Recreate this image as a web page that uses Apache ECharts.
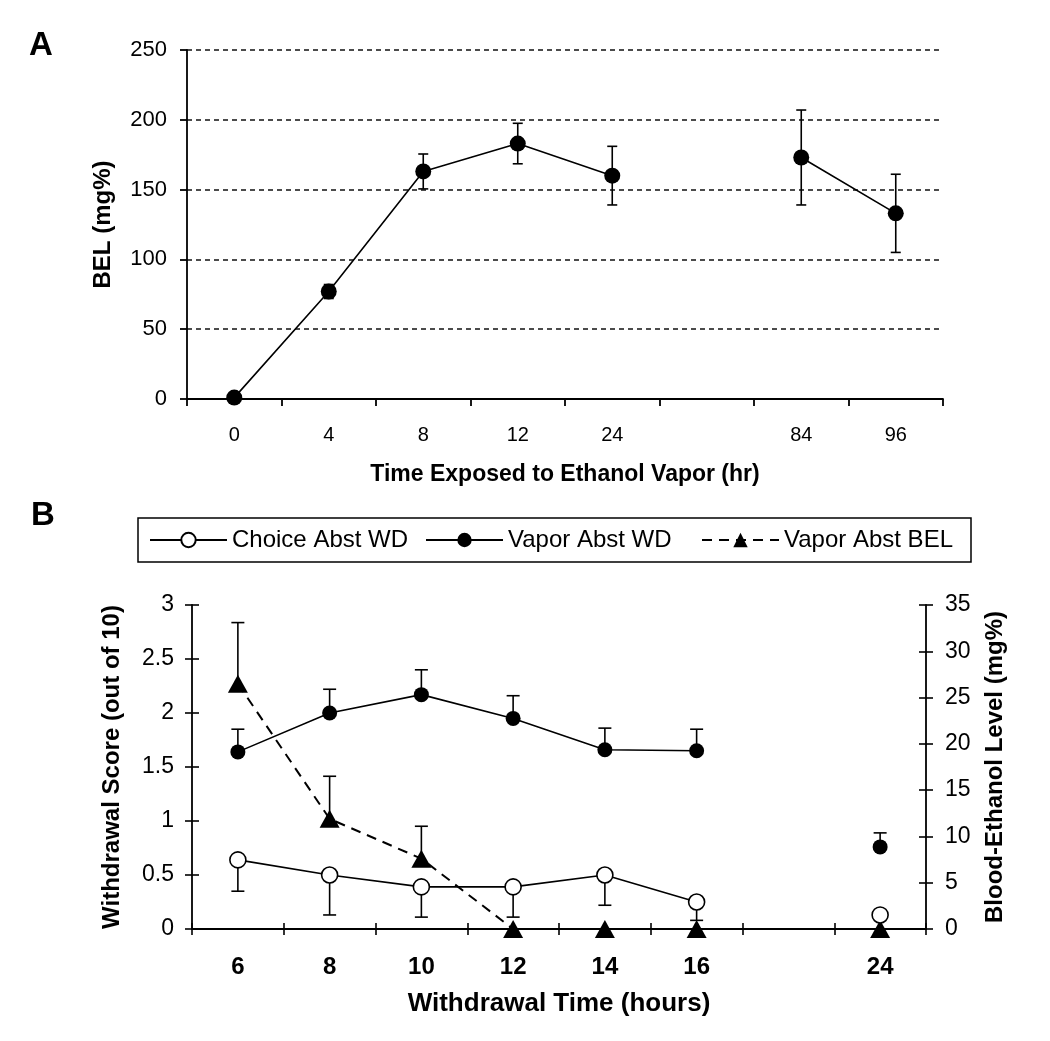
<!DOCTYPE html>
<html><head><meta charset="utf-8">
<script src="https://cdn.jsdelivr.net/npm/echarts@6/dist/echarts.min.js"></script>
<style>html,body{margin:0;padding:0;background:#fff}#c{width:1050px;height:1041px}</style>
</head><body><div id="c"></div>
<script>
// ---- Panel A data ----
const catsA = ['0', '4', '8', '12', '24', '', '84', '96'];
const belA = [1, 77, 163, 183, 160, null, 173, 133];
const belAErr = [0, 5, 12.5, 14.5, 21, null, 34, 28];
const ticksA = [0, 50, 100, 150, 200, 250];

// ---- Panel B data ----
const catsB = ['6', '8', '10', '12', '14', '16', '', '24'];
const choiceWD = [0.64, 0.5, 0.39, 0.39, 0.5, 0.25, null, 0.13];
const choiceWDErr = [0.29, 0.37, 0.28, 0.28, 0.28, 0.17, null, 0];
const vaporWD = [1.64, 2.0, 2.17, 1.95, 1.66, 1.65, null, 0.76];
const vaporWDErr = [0.21, 0.22, 0.23, 0.21, 0.2, 0.2, null, 0.13];
const vaporBEL = [26.5, 11.9, 7.6, 0, 0, 0, null, 0];
const vaporBELErr = [6.6, 4.6, 3.5, 0, 0, 0, null, 0];
const seriesNames = ['Choice Abst WD', 'Vapor Abst WD', 'Vapor Abst BEL'];

const FONT = 'Liberation Sans, Arial, sans-serif';

function errData(vals, errs, dir) {
  const out = [];
  vals.forEach((v, i) => {
    const e = errs[i];
    if (v == null || !e) return;
    if (dir === 0) out.push([i, v - e, v + e]);
    else out.push([i, v, v + dir * e]);
  });
  return out;
}
function errRender(capW, both) {
  return function (params, api) {
    const i = api.value(0);
    const a = api.coord([i, api.value(1)]);
    const b = api.coord([i, api.value(2)]);
    const st = { stroke: '#000', lineWidth: 1.6 };
    const ch = [
      { type: 'line', shape: { x1: a[0], y1: a[1], x2: b[0], y2: b[1] }, style: st },
      { type: 'line', shape: { x1: b[0] - capW / 2, y1: b[1], x2: b[0] + capW / 2, y2: b[1] }, style: st }
    ];
    if (both) ch.push({ type: 'line', shape: { x1: a[0] - capW / 2, y1: a[1], x2: a[0] + capW / 2, y2: a[1] }, style: st });
    return { type: 'group', children: ch };
  };
}

const axLine = { show: true, lineStyle: { color: '#000', width: 1.8 } };
const black = '#000';

const option = {
  backgroundColor: '#fff',
  animation: false,
  textStyle: { fontFamily: FONT, color: black },
  graphic: [
    { type: 'text', left: 29, top: 29, style: { text: 'A', font: 'bold 33px ' + FONT, fill: black } },
    { type: 'text', left: 31, top: 499, style: { text: 'B', font: 'bold 33px ' + FONT, fill: black } }
  ],
  legend: {
    data: seriesNames,
    left: 138, top: 518,
    orient: 'horizontal',
    padding: [9, 6, 9, 11],
    itemGap: 12,
    itemWidth: 77,
    itemHeight: 18,
    borderColor: '#000', borderWidth: 1.5, borderRadius: 0,
    textStyle: { fontSize: 24, fontFamily: FONT, color: black, width: 181, lineHeight: 26 }
  },
  grid: [
    { left: 187, right: 107, top: 50, bottom: 642 },
    { left: 192, right: 124, top: 605, bottom: 112 }
  ],
  xAxis: [
    {
      type: 'category', gridIndex: 0, data: catsA,
      axisLine: axLine,
      axisTick: { show: true, length: 7, lineStyle: { color: black, width: 1.8 } },
      axisLabel: { fontSize: 20, color: black, margin: 26, fontFamily: FONT },
      name: 'Time Exposed to Ethanol Vapor (hr)', nameLocation: 'middle', nameGap: 64,
      nameTextStyle: { fontSize: 23, fontWeight: 'bold', color: black, fontFamily: FONT }
    },
    {
      type: 'category', gridIndex: 1, data: catsB, position: 'bottom',
      axisLine: axLine,
      axisTick: { show: true, length: 6, lineStyle: { color: black, width: 1.6 } },
      axisLabel: { fontSize: 24, fontWeight: 'bold', color: black, margin: 26, fontFamily: FONT },
      name: 'Withdrawal Time (hours)', nameLocation: 'middle', nameGap: 62,
      nameTextStyle: { fontSize: 26, fontWeight: 'bold', color: black, fontFamily: FONT }
    },
    {
      type: 'category', gridIndex: 1, data: catsB, position: 'bottom',
      axisLine: { show: false },
      axisTick: { show: true, inside: true, length: 6, lineStyle: { color: black, width: 1.6 } },
      axisLabel: { show: false }
    }
  ],
  yAxis: [
    {
      type: 'value', gridIndex: 0, min: ticksA[0], max: ticksA[ticksA.length - 1], interval: 50,
      axisLine: axLine,
      axisTick: { show: true, length: 7, lineStyle: { color: black, width: 1.8 } },
      axisLabel: { fontSize: 22, color: black, margin: 20, fontFamily: FONT },
      splitLine: { show: true, lineStyle: { type: [5, 4], color: '#111', width: 1.6 } },
      name: 'BEL (mg%)', nameLocation: 'middle', nameGap: 72,
      nameTextStyle: { fontSize: 24, fontWeight: 'bold', color: black, fontFamily: FONT }
    },
    {
      type: 'value', gridIndex: 1, position: 'left', min: 0, max: 3, interval: 0.5,
      axisLine: axLine,
      axisTick: { show: true, length: 7, lineStyle: { color: black, width: 1.6 } },
      axisLabel: { fontSize: 23, color: black, margin: 18, fontFamily: FONT },
      splitLine: { show: false },
      name: 'Withdrawal Score (out of 10)', nameLocation: 'middle', nameGap: 68,
      nameTextStyle: { fontSize: 24, fontWeight: 'bold', color: black, fontFamily: FONT }
    },
    {
      type: 'value', gridIndex: 1, position: 'right', min: 0, max: 35, interval: 5,
      axisLine: axLine,
      axisTick: { show: true, length: 7, lineStyle: { color: black, width: 1.6 } },
      axisLabel: { fontSize: 23, color: black, margin: 19, fontFamily: FONT },
      splitLine: { show: false },
      name: 'Blood-Ethanol Level (mg%)', nameLocation: 'middle', nameGap: 57,
      nameTextStyle: { fontSize: 24, fontWeight: 'bold', color: black, fontFamily: FONT }
    },
    {
      type: 'value', gridIndex: 1, position: 'left', min: 0, max: 3, interval: 0.5,
      axisLine: { show: false },
      axisTick: { show: true, inside: true, length: 7, lineStyle: { color: black, width: 1.6 } },
      axisLabel: { show: false }, splitLine: { show: false }
    },
    {
      type: 'value', gridIndex: 1, position: 'right', min: 0, max: 35, interval: 5,
      axisLine: { show: false },
      axisTick: { show: true, inside: true, length: 7, lineStyle: { color: black, width: 1.6 } },
      axisLabel: { show: false }, splitLine: { show: false }
    }
  ],
  series: [
    // Panel A
    {
      type: 'custom', name: 'errA', xAxisIndex: 0, yAxisIndex: 0, z: 2,
      encode: { x: 0, y: [1, 2] },
      renderItem: errRender(10, true),
      data: errData(belA, belAErr, 0)
    },
    {
      type: 'line', name: 'BEL', xAxisIndex: 0, yAxisIndex: 0, z: 3,
      data: belA, connectNulls: false,
      symbol: 'circle', symbolSize: 16,
      itemStyle: { color: black },
      lineStyle: { color: black, width: 1.6 }
    },
    // Panel B error bars
    {
      type: 'custom', name: 'errChoice', xAxisIndex: 1, yAxisIndex: 1, z: 2,
      encode: { x: 0, y: [1, 2] },
      renderItem: errRender(13, false),
      data: errData(choiceWD, choiceWDErr, -1)
    },
    {
      type: 'custom', name: 'errVapor', xAxisIndex: 1, yAxisIndex: 1, z: 2,
      encode: { x: 0, y: [1, 2] },
      renderItem: errRender(13, false),
      data: errData(vaporWD, vaporWDErr, 1)
    },
    {
      type: 'custom', name: 'errBEL', xAxisIndex: 1, yAxisIndex: 2, z: 2,
      encode: { x: 0, y: [1, 2] },
      renderItem: errRender(13, false),
      data: errData(vaporBEL, vaporBELErr, 1)
    },
    {
      type: 'line', name: seriesNames[0], xAxisIndex: 1, yAxisIndex: 1, z: 4,
      data: choiceWD, connectNulls: false,
      symbol: 'circle', symbolSize: 16,
      itemStyle: { color: '#fff', borderColor: black, borderWidth: 1.6 },
      lineStyle: { color: black, width: 1.6 }
    },
    {
      type: 'line', name: seriesNames[1], xAxisIndex: 1, yAxisIndex: 1, z: 4,
      data: vaporWD, connectNulls: false,
      symbol: 'circle', symbolSize: 15,
      itemStyle: { color: black },
      lineStyle: { color: black, width: 1.6 }
    },
    {
      type: 'line', name: seriesNames[2], xAxisIndex: 1, yAxisIndex: 2, z: 3,
      data: vaporBEL, connectNulls: false,
      symbol: 'triangle', symbolSize: [20, 18],
      itemStyle: { color: black },
      lineStyle: { color: black, width: 2, type: [10, 7] }
    }
  ]
};

const chart = echarts.init(document.getElementById('c'), null, { renderer: 'canvas' });
chart.setOption(option);
</script>
</body></html>
